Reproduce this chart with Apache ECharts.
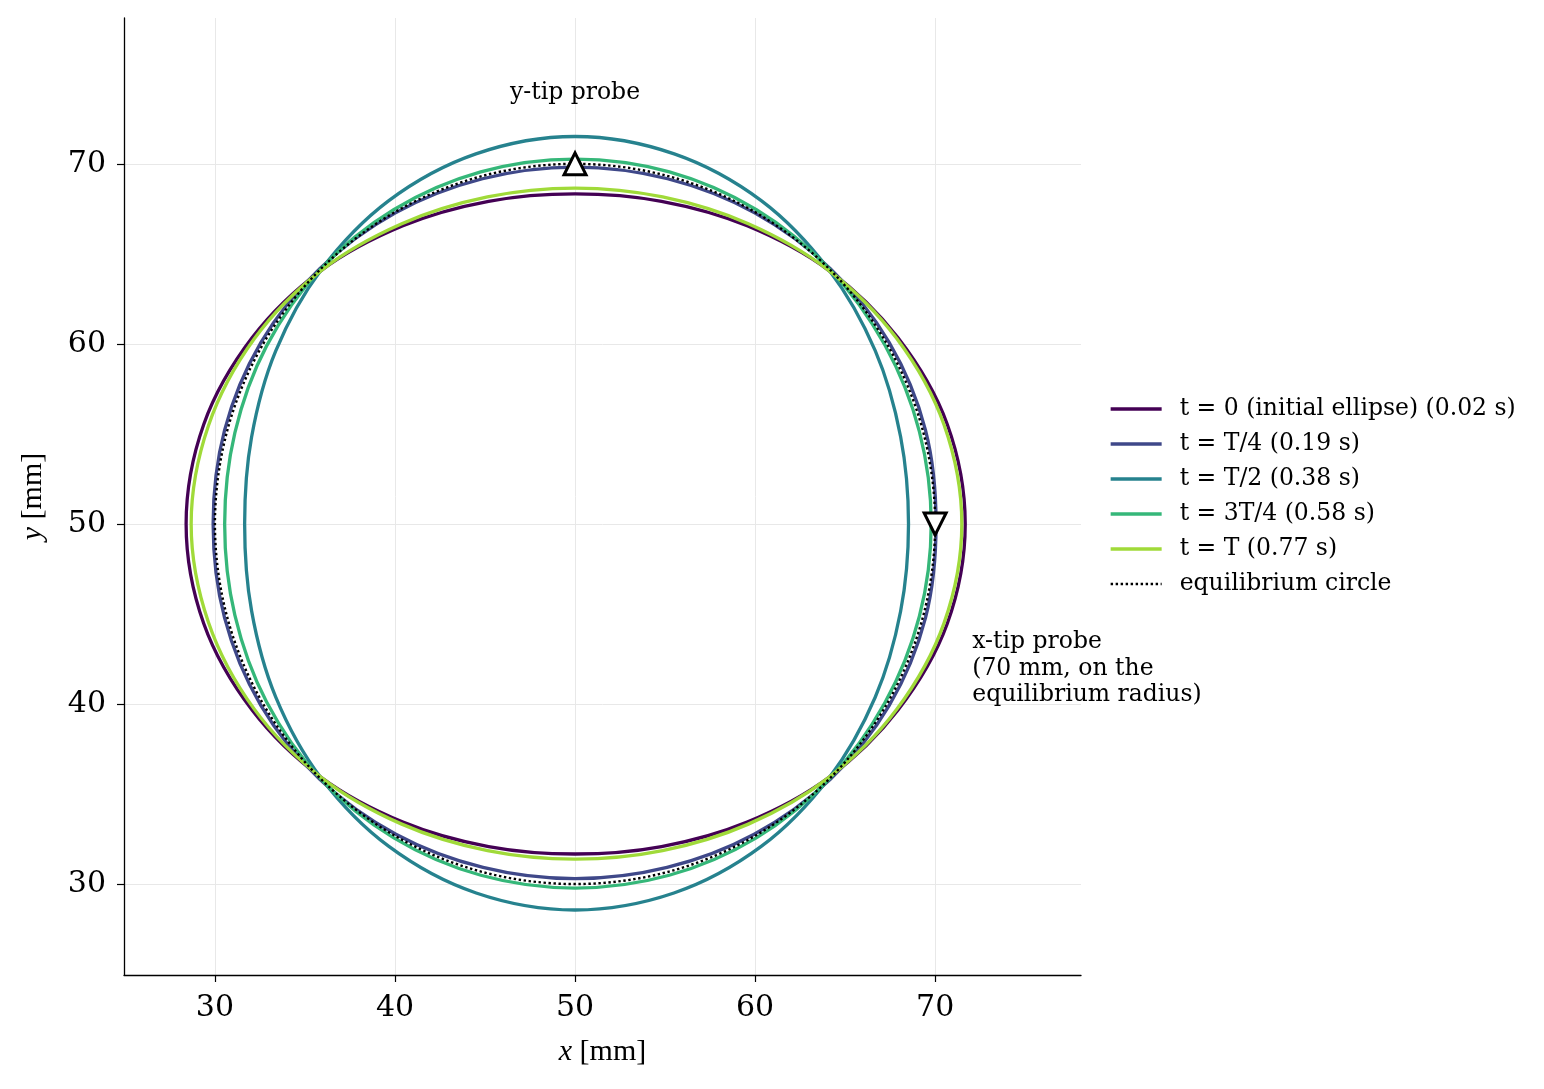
<!DOCTYPE html>
<html>
<head>
<meta charset="utf-8">
<script src="https://cdn.jsdelivr.net/npm/echarts@6/dist/echarts.min.js"></script>
<style>
  html, body { margin: 0; padding: 0; background: #fff; }
  #main { width: 1544px; height: 1089px; }
</style>
</head>
<body>
<div id="main"></div>
<script>
// sample angles (deg) around the drop centre, radii in mm
var angles = [0, 15, 30, 45, 60, 75, 90, 105, 120, 135, 150, 165,
              180, 195, 210, 225, 240, 255, 270, 285, 300, 315, 330, 345];
var center = [50, 50];

var rT0  = [21.67, 21.4, 20.7, 19.92, 19.12, 18.55, 18.33, 18.55, 19.12, 19.92, 20.7, 21.35,
            21.6, 21.35, 20.7, 19.92, 19.12, 18.55, 18.33, 18.55, 19.12, 19.92, 20.7, 21.4];
var rT4  = [20.05, 20.15, 20.15, 20.05, 19.95, 19.85, 19.82, 19.85, 19.95, 20.05, 20.15, 20.15,
            20.1, 20.15, 20.15, 20.05, 19.9, 19.75, 19.7, 19.75, 19.9, 20.05, 20.15, 20.15];
var rT2  = [18.52, 18.72, 19.25, 19.95, 20.72, 21.28, 21.52, 21.28, 20.72, 19.95, 19.2, 18.6,
            18.35, 18.6, 19.2, 19.95, 20.68, 21.22, 21.44, 21.22, 20.68, 19.95, 19.25, 18.72];
var r3T4 = [19.78, 19.8, 19.87, 20.0, 20.15, 20.24, 20.26, 20.24, 20.15, 20.0, 19.78, 19.56,
            19.46, 19.56, 19.78, 20.0, 20.13, 20.2, 20.22, 20.2, 20.13, 20.0, 19.87, 19.8];
var rT   = [21.48, 21.22, 20.62, 19.92, 19.25, 18.8, 18.65, 18.8, 19.25, 19.92, 20.57, 21.08,
            21.32, 21.08, 20.57, 19.92, 19.25, 18.78, 18.61, 18.78, 19.25, 19.92, 20.62, 21.22];
var rEq  = [20, 20, 20, 20, 20, 20, 20, 20, 20, 20, 20, 20,
            20, 20, 20, 20, 20, 20, 20, 20, 20, 20, 20, 20];

var names = ['t = 0 (initial ellipse) (0.02 s)', 't = T/4 (0.19 s)', 't = T/2 (0.38 s)',
             't = 3T/4 (0.58 s)', 't = T (0.77 s)'];
var eqName = 'equilibrium circle';
var colors = ['#440154', '#3f4889', '#26828e', '#35b779', '#a0da39'];

var yTip = [50, 70];
var xTip = [70, 50];

var FONT = 'DejaVu Serif';
var DOTS = [2.4, 2.6];
var LW = 3.3;

function outline(radii) {
    var pts = [];
    for (var i = 0; i < angles.length; i++) {
        var a = angles[i] * Math.PI / 180;
        pts.push([center[0] + radii[i] * Math.cos(a), center[1] + radii[i] * Math.sin(a)]);
    }
    return pts;
}

// closed catmull-rom path through the outline, in pixels from the axes
function closedPath(pts, api) {
    var p = pts.map(function (d) { return api.coord(d); });
    var n = p.length;
    var s = 'M' + p[0][0] + ' ' + p[0][1];
    for (var i = 0; i < n; i++) {
        var p0 = p[(i - 1 + n) % n], p1 = p[i], p2 = p[(i + 1) % n], p3 = p[(i + 2) % n];
        var c1x = p1[0] + (p2[0] - p0[0]) / 6, c1y = p1[1] + (p2[1] - p0[1]) / 6;
        var c2x = p2[0] - (p3[0] - p1[0]) / 6, c2y = p2[1] - (p3[1] - p1[1]) / 6;
        s += ' C' + c1x + ' ' + c1y + ' ' + c2x + ' ' + c2y + ' ' + p2[0] + ' ' + p2[1];
    }
    return s + ' Z';
}

function curve(name, radii, color, dash, width) {
    var pts = outline(radii);
    return {
        name: name + ' ',
        type: 'custom',
        coordinateSystem: 'cartesian2d',
        silent: true,
        data: [center],
        renderItem: function (params, api) {
            return {
                type: 'path',
                shape: { pathData: closedPath(pts, api) },
                style: { fill: 'none', stroke: color, lineWidth: width, lineDash: dash }
            };
        }
    };
}

// empty line series only give the legend its line icons
function legendLine(name, color, type, width) {
    return {
        name: name,
        type: 'line',
        data: [],
        symbol: 'none',
        lineStyle: { color: color, width: width, type: type },
        itemStyle: { color: color }
    };
}

var axisCommon = {
    type: 'value',
    min: 24.95,
    max: 78.1,
    axisLine: { show: true, lineStyle: { color: '#000', width: 1.3 } },
    axisTick: { show: true, length: 7, customValues: [30, 40, 50, 60, 70],
                lineStyle: { color: '#000', width: 1.2 } },
    axisLabel: { customValues: [30, 40, 50, 60, 70], margin: 18,
                 fontFamily: FONT, fontSize: 30, color: '#000' },
    splitLine: { show: true, lineStyle: { color: '#e8e8e8', width: 1 } },
    nameLocation: 'middle',
    nameTextStyle: {
        fontFamily: 'Liberation Serif', fontSize: 30, color: '#000',
        rich: { i: { fontFamily: 'Liberation Serif', fontStyle: 'italic', fontSize: 30 } }
    }
};

var series = [];
for (var k = 0; k < names.length; k++) {
    series.push(legendLine(names[k], colors[k], 'solid', LW));
}
series.push(legendLine(eqName, '#000', DOTS, 2.4));

series.push(curve(names[0], rT0, colors[0], null, LW));
series.push(curve(names[1], rT4, colors[1], null, LW));
series.push(curve(names[2], rT2, colors[2], null, LW));
series.push(curve(names[3], r3T4, colors[3], null, LW));
series.push(curve(names[4], rT, colors[4], null, LW));
series.push(curve(eqName, rEq, '#000', DOTS, 2.4));

series.push({
    name: 'ytip',
    type: 'scatter',
    data: [yTip],
    symbol: 'triangle',
    symbolSize: 22,
    silent: true,
    itemStyle: { color: '#fff', borderColor: '#000', borderWidth: 3, opacity: 1 },
    z: 5
});
series.push({
    name: 'xtip',
    type: 'scatter',
    data: [xTip],
    symbol: 'triangle',
    symbolRotate: 180,
    symbolSize: 22,
    silent: true,
    itemStyle: { color: '#fff', borderColor: '#000', borderWidth: 3, opacity: 1 },
    z: 5
});
series.push({
    name: 'notes',
    type: 'scatter',
    symbolSize: 0,
    silent: true,
    itemStyle: { opacity: 1 },
    data: [
        { value: [50, 73.94], label: { formatter: 'y-tip probe', align: 'center' } },
        { value: [72.06, 41.96], label: {
            formatter: 'x-tip probe\n(70 mm, on the\nequilibrium radius)', align: 'left' } }
    ],
    label: {
        show: true, position: 'inside', verticalAlign: 'middle',
        fontFamily: FONT, fontSize: 23.5, lineHeight: 26.5, color: '#000'
    }
});

var myChart = echarts.init(document.getElementById('main'));

var option = {
    backgroundColor: '#fff',
    animation: false,
    grid: { left: 124, top: 18, width: 957, height: 957, containLabel: false },
    xAxis: Object.assign({}, axisCommon, { name: '{i|x} [mm]', nameGap: 62 }),
    yAxis: Object.assign({}, axisCommon, { name: '{i|y} [mm]', nameGap: 76 }),
    legend: {
        orient: 'vertical',
        left: 1109,
        top: 397,
        padding: 0,
        itemWidth: 51,
        itemHeight: 14,
        itemGap: 11,
        selectedMode: false,
        itemStyle: { opacity: 0 },
        lineStyle: { width: 'inherit' },
        data: names.concat([eqName]),
        textStyle: { fontFamily: FONT, fontSize: 23.5, lineHeight: 24, color: '#000',
                     padding: [0, 0, 0, 13] }
    },
    series: series
};

myChart.setOption(option, true);
</script>
</body>
</html>
